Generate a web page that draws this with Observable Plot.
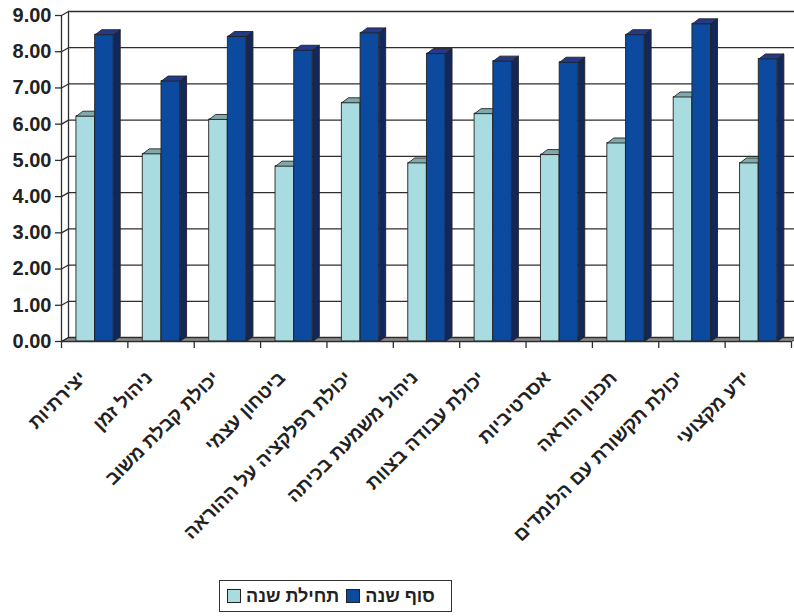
<!DOCTYPE html>
<html>
<head>
<meta charset="utf-8">
<script src="https://cdn.jsdelivr.net/npm/d3@7"></script>
<script src="https://cdn.jsdelivr.net/npm/@observablehq/plot@0.6"></script>
<style>
  html, body { margin: 0; padding: 0; background: #fff; }
  body { width: 794px; height: 616px; position: relative; overflow: hidden; font-family: "Liberation Sans", Arial, sans-serif; }
  #legend { position: absolute; left: 219px; top: 580px; width: 233px; height: 32px; box-sizing: border-box;
            border: 1.5px solid #333; display: flex; align-items: center; padding-left: 7px;
            font: bold 18px "Liberation Sans", Arial, sans-serif; color: #222; }
  #legend .sw { width: 12px; height: 12px; border: 1.3px solid #222; margin-right: 5px; flex: none; }
  #legend .lb { margin-right: 7px; white-space: nowrap; }
</style>
</head>
<body>
<div id="chart"></div>
<div id="legend"></div>
<script>
// ---- data ----
const categories = [
  "יצירתיות",
  "ניהול זמן",
  "יכולת קבלת משוב",
  "ביטחון עצמי",
  "יכולת רפלקציה על ההוראה",
  "ניהול משמעת בכיתה",
  "יכולת עבודה בצוות",
  "אסרטיביות",
  "תכנון הוראה",
  "יכולת תקשורת עם הלומדים",
  "ידע מקצועי"
];
const startYear = [6.22, 5.18, 6.13, 4.84, 6.59, 4.93, 6.29, 5.16, 5.48, 6.75, 4.93];
const endYear   = [8.47, 7.19, 8.42, 8.04, 8.52, 7.95, 7.74, 7.71, 8.47, 8.77, 7.80];
const seriesNames = ["תחילת שנה", "סוף שנה"];
const yTicks = [0, 1, 2, 3, 4, 5, 6, 7, 8, 9];

// ---- layout / style ----
const W = 794, H = 576, ML = 61, MR = 3, MT = 15, MB = 235;
const n = categories.length;
const yMax = 9;
const pxX = n / (W - ML - MR), pxY = yMax / (H - MT - MB);
const barOffset = [0.225, 0.507], barW = 0.28;
const BX = 6.5 * pxX, BY = 5 * pxY;   // bar depth
const WX = 7 * pxX, WY = 4 * pxY;     // wall depth
const colors = {
  front: ["#a8dce0", "#0b4a9f"],
  top:   ["#80a9aa", "#243a88"],
  side:  ["#5d8d90", "#12285c"]
};
const edge = "#222";
const gridColor = "#2e2e2e";

const values = [startYear, endYear];
const bars = [];
categories.forEach((c, i) => {
  values.forEach((arr, s) => {
    const x1 = i + barOffset[s];
    bars.push({cat: c, s, v: arr[i], x1, x2: x1 + barW});
  });
});

const poly = (list, fn) => list.flatMap((b, k) => fn(b).map(([x, y]) => ({id: k, x, y})));
const topFace  = b => [[b.x1, b.v], [b.x1 + BX, b.v + BY], [b.x2 + BX, b.v + BY], [b.x2, b.v], [b.x1, b.v]];
const sideFace = b => [[b.x2, b.v], [b.x2 + BX, b.v + BY], [b.x2 + BX, BY], [b.x2, 0], [b.x2, b.v]];
const floorPts = [[0, 0], [WX, WY], [n + WX, WY], [n, 0], [0, 0]].map(([x, y]) => ({id: 0, x, y}));

const faceStyle = {stroke: edge, strokeWidth: 0.9, strokeLinejoin: "round"};
const barMarks = [0, 1].flatMap(s => {
  const sub = bars.filter(b => b.s === s);
  return [
    Plot.rect(sub, {x1: "x1", x2: "x2", y1: 0, y2: "v", fill: colors.front[s], ...faceStyle}),
    Plot.line(poly(sub, topFace), {x: "x", y: "y", z: "id", fill: colors.top[s], ...faceStyle}),
    Plot.line(poly(sub, sideFace), {x: "x", y: "y", z: "id", fill: colors.side[s], ...faceStyle})
  ];
});

const chart = Plot.plot({
  width: W, height: H,
  marginLeft: ML, marginRight: MR, marginTop: MT, marginBottom: MB,
  x: {type: "linear", domain: [0, n], axis: null},
  y: {domain: [0, yMax], axis: null},
  style: {fontFamily: "'Liberation Sans', Arial, sans-serif", background: "#fff", overflow: "hidden"},
  marks: [
    Plot.line(floorPts, {x: "x", y: "y", z: "id", fill: "#8c8c8c", stroke: gridColor, strokeWidth: 1}),
    Plot.ruleY(yTicks, {y: d => d + WY, x1: WX, x2: n + WX, stroke: gridColor, strokeWidth: 1.3}),
    Plot.link(yTicks, {x1: 0, y1: d => d, x2: WX, y2: d => d + WY, stroke: gridColor, strokeWidth: 1.3}),
    Plot.ruleX([WX], {y1: WY, y2: yMax + WY, stroke: gridColor, strokeWidth: 1.3}),
    Plot.ruleX([0], {y1: 0, y2: yMax, stroke: gridColor, strokeWidth: 1.3}),
    Plot.axisY({ticks: yTicks, tickFormat: d => d.toFixed(2), tickSize: 6, tickPadding: 4,
                fontSize: 20, fontWeight: "bold", color: "#222", stroke: gridColor, strokeWidth: 1.3}),
    ...barMarks,
    Plot.ruleY([0], {x1: 0, x2: n, stroke: gridColor, strokeWidth: 1.3}),
    Plot.axisX({ticks: d3.range(n + 1), tickFormat: () => "", tickSize: 7, stroke: gridColor, strokeWidth: 1.3}),
    Plot.text(categories, {x: (d, i) => i + 0.5, frameAnchor: "bottom", text: d => d, rotate: -45,
                           textAnchor: "end", lineAnchor: "top", dx: -17, dy: 28,
                           fontSize: 19, fontWeight: "bold", fill: "#222"})
  ]
});
document.getElementById("chart").appendChild(chart);

// ---- legend ----
const legend = document.getElementById("legend");
seriesNames.forEach((name, s) => {
  const sw = document.createElement("span");
  sw.className = "sw";
  sw.style.background = colors.front[s];
  const lb = document.createElement("span");
  lb.className = "lb";
  lb.textContent = name;
  legend.appendChild(sw);
  legend.appendChild(lb);
});
</script>
</body>
</html>
